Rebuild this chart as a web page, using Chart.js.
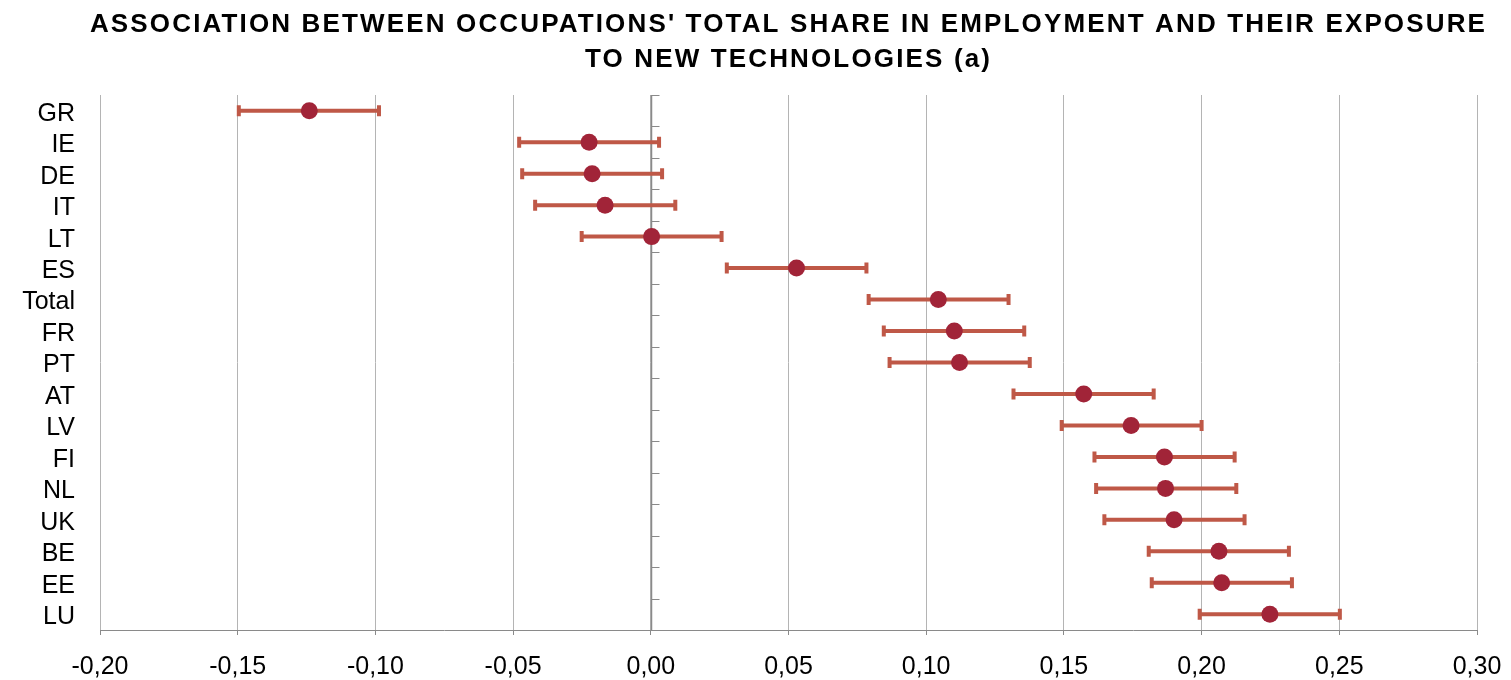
<!DOCTYPE html>
<html>
<head>
<meta charset="utf-8">
<title>Occupations and exposure to new technologies</title>
<script src="https://cdn.jsdelivr.net/npm/chart.js@4.4.1/dist/chart.umd.min.js"></script>
<style>
  html, body { margin: 0; padding: 0; background: #ffffff; }
  #wrap { width: 1511px; height: 680px; }
</style>
</head>
<body>
<div id="wrap"><canvas id="chart" width="1511" height="680"></canvas></div>
<script>
// Countries, ordered top to bottom
const countries = ['GR', 'IE', 'DE', 'IT', 'LT', 'ES', 'Total', 'FR', 'PT', 'AT', 'LV', 'FI', 'NL', 'UK', 'BE', 'EE', 'LU'];

// Point estimates of the association
const estimates = [-0.124, -0.0224, -0.0213, -0.0166, 0.0003, 0.0529, 0.1044, 0.1102, 0.1121, 0.1572, 0.1744, 0.1865, 0.1869, 0.1900, 0.2063, 0.2073, 0.2248];

// Confidence interval bounds
const lowerBounds = [-0.1496, -0.0478, -0.0467, -0.0420, -0.0251, 0.0276, 0.0791, 0.0846, 0.0867, 0.1317, 0.1492, 0.1611, 0.1617, 0.1647, 0.1808, 0.1819, 0.1993];
const upperBounds = [-0.0987, 0.0030, 0.0041, 0.0089, 0.0257, 0.0783, 0.1299, 0.1356, 0.1376, 0.1826, 0.2000, 0.2120, 0.2126, 0.2156, 0.2317, 0.2328, 0.2502];

// Horizontal axis range and tick step
const xMin = -0.20;
const xMax = 0.30;
const xStep = 0.05;

const titleLines = [
  "ASSOCIATION BETWEEN OCCUPATIONS' TOTAL SHARE IN EMPLOYMENT AND THEIR EXPOSURE",
  "TO NEW TECHNOLOGIES (a)"
];

const FONT = "'Liberation Sans', Arial, Helvetica, sans-serif";

// Two-line bold heading centred over the plot area
const headingPlugin = {
  id: 'heading',
  afterDraw(chart) {
    const ctx = chart.ctx;
    const area = chart.chartArea;
    const cx = (area.left + area.right) / 2;
    ctx.save();
    ctx.fillStyle = '#000000';
    ctx.font = 'bold 26px ' + FONT;
    ctx.textAlign = 'center';
    ctx.textBaseline = 'alphabetic';
    if ('letterSpacing' in ctx) ctx.letterSpacing = '2.15px';
    ctx.fillText(titleLines[0], cx, 32);
    ctx.fillText(titleLines[1], cx, 66.5);
    ctx.restore();
  }
};

// Horizontal confidence interval whiskers, drawn under the points
const whiskerPlugin = {
  id: 'whiskers',
  beforeDatasetsDraw(chart) {
    const ctx = chart.ctx;
    const xs = chart.scales.x;
    const ys = chart.scales.y;
    ctx.save();
    ctx.strokeStyle = '#bf5847';
    ctx.lineCap = 'butt';
    ctx.lineWidth = 4;
    countries.forEach((c, i) => {
      const y = ys.getPixelForValue(i);
      const x0 = xs.getPixelForValue(lowerBounds[i]);
      const x1 = xs.getPixelForValue(upperBounds[i]);
      ctx.beginPath();
      ctx.moveTo(x0, y);
      ctx.lineTo(x1, y);
      ctx.moveTo(x0, y - 5.5);
      ctx.lineTo(x0, y + 5.5);
      ctx.moveTo(x1, y - 5.5);
      ctx.lineTo(x1, y + 5.5);
      ctx.stroke();
    });
    ctx.restore();
  }
};

// Vertical axis crossing at zero, with tick marks between categories
const zeroAxisPlugin = {
  id: 'zeroAxis',
  beforeDatasetsDraw(chart) {
    const ctx = chart.ctx;
    const xs = chart.scales.x;
    const ys = chart.scales.y;
    const area = chart.chartArea;
    const x = Math.round(xs.getPixelForValue(0)) + 0.5;
    ctx.save();
    ctx.strokeStyle = '#8a8a8a';
    ctx.lineWidth = 1.5;
    ctx.beginPath();
    ctx.moveTo(x, area.top);
    ctx.lineTo(x, area.bottom);
    ctx.stroke();
    ctx.lineWidth = 1;
    ctx.beginPath();
    const step = ys.getPixelForValue(1) - ys.getPixelForValue(0);
    for (let i = 0; i <= countries.length; i++) {
      const y = Math.round(ys.getPixelForValue(0) - step / 2 + i * step) + 0.5;
      ctx.moveTo(x, y);
      ctx.lineTo(x + 8, y);
    }
    ctx.stroke();
    ctx.restore();
  }
};

new Chart(document.getElementById('chart'), {
  type: 'scatter',
  data: {
    labels: countries,
    datasets: [{
      data: countries.map((c, i) => ({ x: estimates[i], y: c })),
      backgroundColor: '#a12438',
      borderColor: '#a12438',
      pointRadius: 8.5,
      pointHoverRadius: 8.5,
      borderWidth: 0
    }]
  },
  options: {
    responsive: false,
    devicePixelRatio: 1,
    animation: false,
    events: [],
    layout: { padding: { left: 0, right: 34, top: 95, bottom: 0 } },
    plugins: {
      legend: { display: false },
      tooltip: { enabled: false },
      title: { display: false }
    },
    scales: {
      x: {
        type: 'linear',
        min: xMin,
        max: xMax,
        afterFit(scale) {
          scale.height = 50;
          scale.paddingLeft = 0;
          scale.paddingRight = 0;
        },
        ticks: {
          stepSize: xStep,
          color: '#000000',
          font: { family: FONT, size: 25 },
          padding: 17,
          callback(v) {
            const val = Math.abs(v) < 1e-9 ? 0 : v;
            return val.toFixed(2).replace('.', ',');
          }
        },
        grid: {
          color: '#b4b4b4',
          lineWidth: 1,
          tickLength: 5,
          tickColor: '#8a8a8a',
          drawTicks: true
        },
        border: { display: true, color: '#8a8a8a', width: 1 }
      },
      y: {
        type: 'category',
        labels: countries,
        offset: true,
        afterFit(scale) {
          scale.width = 100;
          scale.paddingTop = 0;
          scale.paddingBottom = 0;
        },
        ticks: {
          color: '#000000',
          font: { family: FONT, size: 25 },
          padding: 25,
          labelOffset: 3,
          autoSkip: false
        },
        grid: { display: false, drawTicks: false },
        border: { display: false }
      }
    }
  },
  plugins: [zeroAxisPlugin, whiskerPlugin, headingPlugin]
});
</script>
</body>
</html>
